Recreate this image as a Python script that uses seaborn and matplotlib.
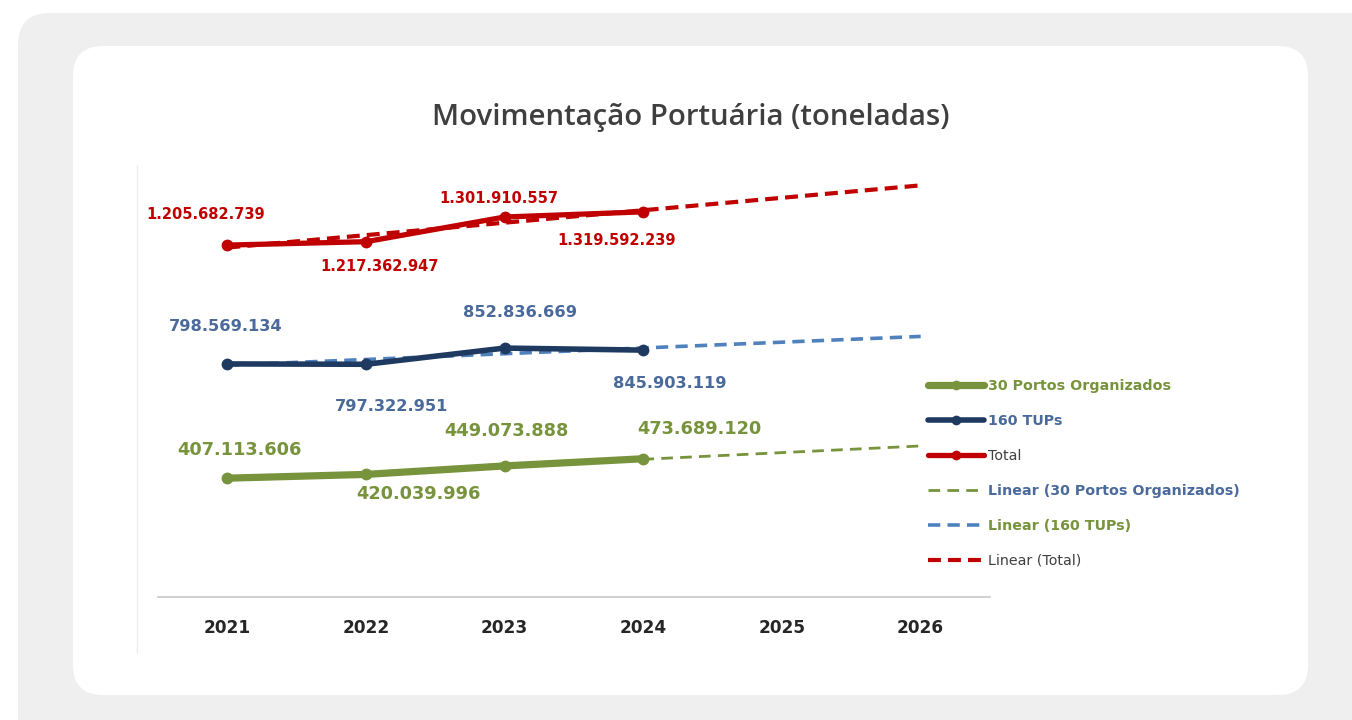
import numpy as np
import pandas as pd
import matplotlib
matplotlib.use("Agg")
import matplotlib.pyplot as plt
from matplotlib.patches import FancyBboxPatch
from matplotlib.lines import Line2D
import seaborn as sns

# ---- data ----
years = [2021, 2022, 2023, 2024]
trend_years = [2021, 2022, 2023, 2024, 2025, 2026]
portos = [407113606, 420039996, 449073888, 473689120]
tups = [798569134, 797322951, 852836669, 845903119]
total = [1205682739, 1217362947, 1301910557, 1319592239]
series_names = ["30 Portos Organizados", "160 TUPs", "Total"]
title = "Movimentação Portuária (toneladas)"

sns.set_theme(style="white")
plt.rcParams["font.family"] = ["DejaVu Sans"]

W, H = 1352, 720
fig = plt.figure(figsize=(W / 100, H / 100), dpi=100)
fig.patch.set_facecolor("white")

# page background and card, drawn in pixel units
bg = fig.add_axes([0, 0, 1, 1])
bg.set_xlim(0, W)
bg.set_ylim(H, 0)
bg.axis("off")
bg.set_zorder(0)
bg.add_patch(FancyBboxPatch((18, 13), W + 100, H + 100,
                            boxstyle="round,pad=0,rounding_size=32",
                            facecolor="#efefef", edgecolor="none"))
bg.add_patch(FancyBboxPatch((73, 46), 1308 - 73, 695 - 46,
                            boxstyle="round,pad=0,rounding_size=30",
                            facecolor="white", edgecolor="none"))
# faint chart-area edge
bg.plot([137, 137], [165, 653], color="#eeeeee", lw=1)

bg.text(691, 117, title, ha="center", va="center", fontsize=21.2,
        color="#3f3f3f", fontweight="semibold",
        family=["Open Sans", "DejaVu Sans"])

# plotting axes
ax_left, ax_right = 158, 990
ax_bottom, ax_top = 597, 130
ax = fig.add_axes([ax_left / W, 1 - ax_bottom / H, (ax_right - ax_left) / W,
                   (ax_bottom - ax_top) / H])
ax.set_facecolor("none")
ax.set_zorder(2)

green = "#77933C"
navy = "#1F3A60"
red = "#C00000"
blue_trend = "#4F81BD"
label_blue = "#4A6A9C"

df = pd.DataFrame({"ano": years, series_names[0]: portos,
                   series_names[1]: tups, series_names[2]: total})

# linear trends
xt = np.array(trend_years, dtype=float)
trends = {}
for name in series_names:
    k, b = np.polyfit(np.array(years, float), np.array(df[name], float), 1)
    trends[name] = k * xt + b

trend_styles = {series_names[0]: (green, 2.0, (4.2, 2.6)),
                series_names[1]: (blue_trend, 2.6, (3.4, 2.0)),
                series_names[2]: (red, 3.0, (3.1, 1.7))}
for name in series_names:
    c, lw, dash = trend_styles[name]
    sns.lineplot(x=xt, y=trends[name], ax=ax, color=c, lw=lw,
                 zorder=2).lines[-1].set_dashes(dash)

line_styles = {series_names[0]: (green, 5.2, 8.5),
               series_names[1]: (navy, 4.0, 8.5),
               series_names[2]: (red, 3.8, 8.5)}
for name in series_names:
    c, lw, ms = line_styles[name]
    sns.lineplot(data=df, x="ano", y=name, ax=ax, color=c, lw=lw,
                 marker="o", markersize=ms, markeredgewidth=0, zorder=3)

# data labels
def fmt(v):
    return f"{v:,}".replace(",", ".")

label_offsets = {
    series_names[2]: [(-22, 31), (13, -25), (-6, 19), (-27, -29)],
    series_names[1]: [(-2, 37), (26, -42), (15, 36), (26, -33)],
    series_names[0]: [(12, 28), (52, -20), (2, 35), (56, 30)],
}
label_fmt = {series_names[2]: (red, 10.5, "bold"),
             series_names[1]: (label_blue, 11.7, "bold"),
             series_names[0]: (green, 12.8, "bold")}
for name in series_names:
    c, fs, fw = label_fmt[name]
    for x, v, off in zip(years, df[name], label_offsets[name]):
        ax.annotate(fmt(v), (x, v), xytext=off, textcoords="offset pixels",
                    ha="center", va="center", color=c, fontsize=fs,
                    fontweight=fw)

ax.set_xlim(2020.5, 2026.5)
ax.set_ylim(0, 1.6e9)
ax.set_xticks(trend_years)
ax.set_xticklabels([str(y) for y in trend_years], fontsize=12.2,
                   fontweight="bold", color="#262626")
ax.tick_params(axis="x", length=0, pad=16)
ax.set_yticks([])
ax.set_xlabel("")
ax.set_ylabel("")
for s in ["top", "right", "left"]:
    ax.spines[s].set_visible(False)
ax.spines["bottom"].set_color("#c8c8c8")
ax.spines["bottom"].set_linewidth(1.2)

# legend
handles = [
    Line2D([], [], color=green, lw=5.2, marker="o", markersize=7, markeredgewidth=0),
    Line2D([], [], color=navy, lw=4.0, marker="o", markersize=7, markeredgewidth=0),
    Line2D([], [], color=red, lw=3.8, marker="o", markersize=7, markeredgewidth=0),
    Line2D([], [], color=green, lw=2.0, dashes=(4.2, 2.6)),
    Line2D([], [], color=blue_trend, lw=2.6, dashes=(3.4, 2.0)),
    Line2D([], [], color=red, lw=3.0, dashes=(3.1, 1.7)),
]
labels = series_names + [f"Linear ({n})" for n in series_names]
text_colors = [green, label_blue, "#404040", label_blue, green, "#404040"]
leg = fig.legend(handles, labels, loc="upper left",
                 bbox_to_anchor=(922 / W, 1 - 373 / H), frameon=False,
                 fontsize=10.3, handlelength=3.9, handletextpad=0.3,
                 labelspacing=1.47, borderaxespad=0)
for t, c in zip(leg.get_texts(), text_colors):
    t.set_color(c)
    t.set_fontweight("bold" if c != "#404040" else "normal")

fig.savefig("out.png", dpi=100, facecolor=fig.get_facecolor())
